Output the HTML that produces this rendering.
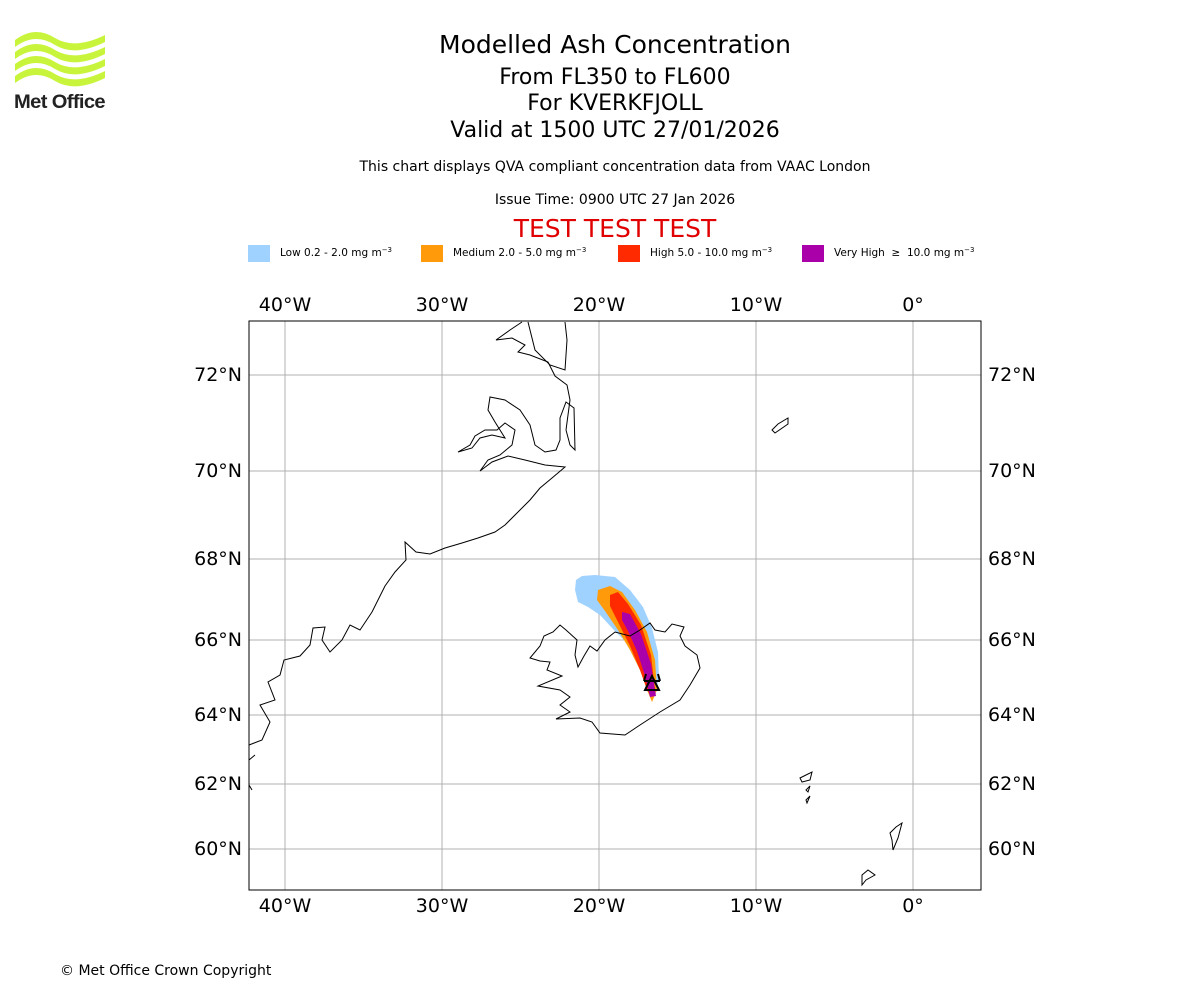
<!DOCTYPE html>
<html><head><meta charset="utf-8"><style>
body{margin:0;background:#fff;width:1200px;height:1000px;overflow:hidden;font-family:"DejaVu Sans","Liberation Sans",sans-serif}
svg{position:absolute;left:0;top:0}
</style></head><body>
<svg width="1200" height="1000" viewBox="0 0 1200 1000">
<g>
<path d="M15 40 Q35 25 55 38 Q75 50 105 35 L105 42 Q75 57 55 45 Q35 32 15 47Z" fill="#c8f53c"/>
<path d="M15 52 Q35 37 55 50 Q75 62 105 47 L105 54 Q75 69 55 57 Q35 44 15 59Z" fill="#c8f53c"/>
<path d="M15 64 Q35 49 55 62 Q75 74 105 59 L105 66 Q75 81 55 69 Q35 56 15 71Z" fill="#c8f53c"/>
<path d="M15 76 Q35 61 55 74 Q75 86 105 71 L105 78 Q75 93 55 81 Q35 68 15 83Z" fill="#c8f53c"/>
<text x="14" y="108" font-size="19" font-weight="bold" fill="#222" font-family="Liberation Sans,sans-serif" letter-spacing="-0.6" textLength="91" lengthAdjust="spacingAndGlyphs">Met Office</text>
</g>
<g text-anchor="middle" fill="#000">
<text x="615" y="53" font-size="25">Modelled Ash Concentration</text>
<text x="615" y="84" font-size="22">From FL350 to FL600</text>
<text x="615" y="110" font-size="22">For KVERKFJOLL</text>
<text x="615" y="137" font-size="22">Valid at 1500 UTC 27/01/2026</text>
<text x="615" y="171" font-size="14">This chart displays QVA compliant concentration data from VAAC London</text>
<text x="615" y="204" font-size="14">Issue Time: 0900 UTC 27 Jan 2026</text>
<text x="615" y="237" font-size="25" fill="#e00000">TEST TEST TEST</text>
</g>
<g font-size="10.5">
<g><rect x="248" y="245" width="22" height="17" fill="#a0d2ff"/><text x="280" y="256">Low 0.2 - 2.0 mg m<tspan dy="-4" font-size="7">−3</tspan></text></g>
<g><rect x="421" y="245" width="22" height="17" fill="#ff9a0a"/><text x="453" y="256">Medium 2.0 - 5.0 mg m<tspan dy="-4" font-size="7">−3</tspan></text></g>
<g><rect x="618" y="245" width="22" height="17" fill="#ff2a00"/><text x="650" y="256">High 5.0 - 10.0 mg m<tspan dy="-4" font-size="7">−3</tspan></text></g>
<g><rect x="802" y="245" width="22" height="17" fill="#aa00aa"/><text x="834" y="256">Very High &#160;≥ &#160;10.0 mg m<tspan dy="-4" font-size="7">−3</tspan></text></g>
</g>
<g id="grid"></g>
<g id="labels" font-size="19"></g>
<g id="plume"></g>
<g fill="none" stroke="#000" stroke-width="1">
<path d="M249 745 L262 740 L270 722 L260 705 L275 700 L268 682 L280 675 L284 660 L300 656 L310 645 L313 628 L325 627 L322 640 L330 652 L342 640 L350 625 L360 630 L372 612 L385 586 L395 572 L406 560 L405 542 L416 552 L430 554 L445 548 L462 543 L478 538 L495 532 L505 525 L518 512 L530 500 L540 488 L552 478 L565 467 L545 465 L525 460 L508 456 L492 462 L480 471 L488 460 L500 455 L512 445 L515 430 L505 423 L497 430 L485 430 L475 436 L470 445 L458 452 L472 448 L480 438 L492 435 L505 438 L495 422 L488 410 L490 397 L505 400 L520 410 L530 425 L535 445 L545 452 L556 450 L560 440 L560 418 L566 402 L574 408 L575 450 L570 445 L566 430" />
<path d="M566 430 L570 400 L567 385 L555 376 L548 362 L530 355 L518 352 L525 345 L512 338 L496 340 L510 330 L522 322"/>
<path d="M528 322 L535 350 L550 365 L565 370 L567 340 L565 322"/>
<path d="M249 760 L255 755 M249 785 L252 790"/>
<path d="M556 719 L580 718 L592 722 L600 733 L625 735 L640 725 L660 712 L680 700 L690 685 L700 668 L697 655 L685 646 L680 636 L684 627 L672 624 L665 632 L655 630 L650 623 L640 630 L630 636 L615 632 L605 640 L597 651 L590 646 L584 656 L578 667 L575 655 L577 640 L566 630 L560 625 L553 632 L544 636 L540 646 L530 658 L540 661 L550 662 L547 670 L562 676 L538 686 L560 690 L570 697 L560 705 L570 712 L556 719Z"/>
<path d="M772 430 L778 424 L788 418 L788 424 L775 433Z"/>
<path d="M800 778 L806 775 L812 772 L810 780 L802 782Z M806 790 L810 786 L808 792Z M806 800 L810 796 L807 803Z"/>
<path d="M890 833 L896 827 L902 823 L898 838 L893 850 L892 840Z"/>
<path d="M862 875 L868 870 L875 875 L866 880 L862 885Z"/>
</g>
<g stroke="#000" stroke-width="2" fill="none">
<path d="M652 676 L645 690 L659 690Z"/><line x1="644" y1="681" x2="660" y2="681"/><line x1="646" y1="674" x2="644" y2="681"/><line x1="658" y1="674" x2="660" y2="681"/>
</g>
<rect x="249" y="321" width="732" height="569" fill="none" stroke="#000"/>
<text x="60" y="975" font-size="14">© Met Office Crown Copyright</text>
</svg>
<script>
const lonTicks=[-40,-30,-20,-10,0];
const lonLabels=["40°W","30°W","20°W","10°W","0°"];
const latTicks=[60,62,64,66,68,70,72];
const latLabels=["60°N","62°N","64°N","66°N","68°N","70°N","72°N"];
const latRef=[58,60,62,64,66,68,70,72,74];
const latPix=[909,849,784,715,640,559,471,375,270];
const lowPlume=[[576,580],[582,576],[595,575],[615,577],[630,590],[643,607],[652,628],[658,652],[659,680],[654,692],[646,682],[636,662],[626,642],[612,628],[600,615],[588,607],[578,602],[575,590]];
const medPlume=[[598,590],[610,586],[622,592],[635,610],[647,632],[655,660],[657,690],[652,702],[647,690],[640,670],[630,650],[618,630],[605,611],[597,600]];
const highPlume=[[610,595],[618,592],[628,604],[641,625],[651,655],[655,690],[648,692],[640,670],[630,646],[620,626],[610,606]];
const vhPlume=[[622,612],[630,614],[641,634],[651,664],[656,696],[650,697],[645,676],[637,651],[628,631],[622,620]];
const NS="http://www.w3.org/2000/svg";
function xOf(lon){return 913+lon*15.7;}
function yOf(lat){for(let i=0;i<latRef.length-1;i++){if(lat<=latRef[i+1])return latPix[i]+(lat-latRef[i])/(latRef[i+1]-latRef[i])*(latPix[i+1]-latPix[i]);}return latPix[latPix.length-1];}
const grid=document.getElementById('grid'),labels=document.getElementById('labels'),plume=document.getElementById('plume');
lonTicks.forEach((v,i)=>{const x=xOf(v);
const l=document.createElementNS(NS,'line');l.setAttribute('x1',x);l.setAttribute('x2',x);l.setAttribute('y1',321);l.setAttribute('y2',890);l.setAttribute('stroke','#b0b0b0');


grid.appendChild(l);
[311,912].forEach(y=>{const t=document.createElementNS(NS,'text');t.setAttribute('x',x);t.setAttribute('y',y);t.setAttribute('text-anchor','middle');t.textContent=lonLabels[i];


labels.appendChild(t);});});
latTicks.forEach((v,i)=>{const y=yOf(v);
const l=document.createElementNS(NS,'line');l.setAttribute('x1',249);l.setAttribute('x2',981);l.setAttribute('y1',y);l.setAttribute('y2',y);l.setAttribute('stroke','#b0b0b0');


grid.appendChild(l);
[[242,'end'],[988,'start']].forEach(([x,a])=>{const t=document.createElementNS(NS,'text');t.setAttribute('x',x);t.setAttribute('y',y+6);t.setAttribute('text-anchor',a);t.textContent=latLabels[i];


labels.appendChild(t);});});
[[lowPlume,'#a0d2ff','plume-low'],[medPlume,'#ff9a0a','plume-medium'],[highPlume,'#ff2a00','plume-high'],[vhPlume,'#aa00aa','plume-very-high']].forEach(([pts,c,n])=>{
const p=document.createElementNS(NS,'polygon');p.setAttribute('points',pts.map(q=>q.join(',')).join(' '));p.setAttribute('fill',c);


plume.appendChild(p);});
</script>
</body></html>
